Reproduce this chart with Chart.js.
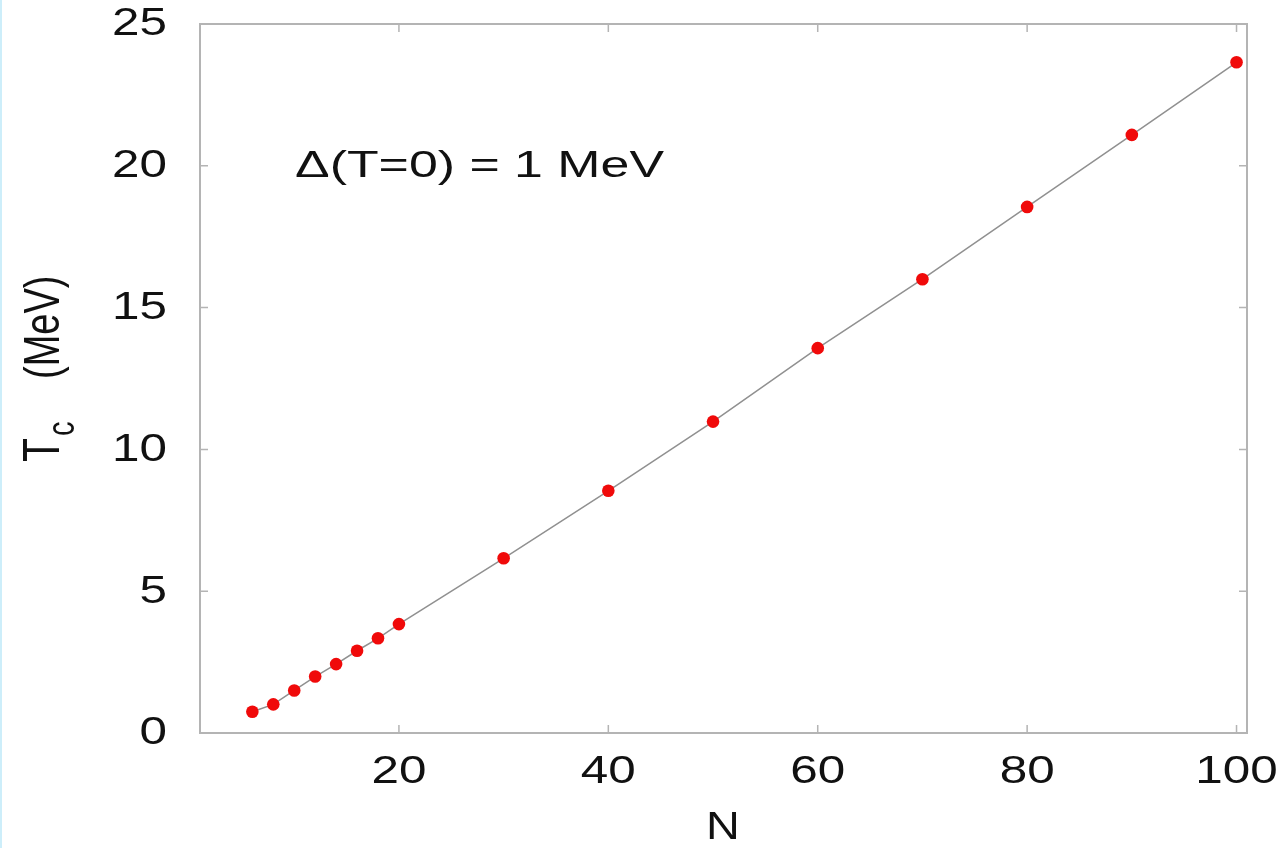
<!DOCTYPE html>
<html>
<head>
<meta charset="utf-8">
<script src="https://cdn.jsdelivr.net/npm/chart.js@4.4.0/dist/chart.umd.min.js"></script>
<style>
    html, body { margin: 0; padding: 0; background: #fff; }
    body { width: 1283px; height: 848px; overflow: hidden; border-left: 2px solid #cdeefa; box-sizing: border-box; }
    #wrap { position: relative; width: 1281px; height: 848px; }
</style>
</head>
<body>
<div id="wrap"><canvas id="tc-chart"></canvas></div>
<script>
// Critical temperature Tc vs N for gap Delta(T=0) = 1 MeV
const particleN = [6, 8, 10, 12, 14, 16, 18, 20, 30, 40, 50, 60, 70, 80, 90, 100];
const criticalT = [0.75, 1.01, 1.5, 1.99, 2.43, 2.9, 3.34, 3.84, 6.16, 8.54, 10.98, 13.57, 16.0, 18.55, 21.09, 23.65];
const xTicks = [20, 40, 60, 80, 100];
const yTicks = [0, 5, 10, 15, 20, 25];
const annotation = 'Δ(T=0) = 1 MeV';

const fontFamily = '"Liberation Sans", Arial, Helvetica, sans-serif';
const frameColor = '#b4b4b4';
const stretch = 1.3; // the original lettering is wide

// draw text squeezed/stretched horizontally around (x, y)
function wideText(ctx, text, x, y, sx, align) {
    ctx.save();
    ctx.translate(x, y);
    ctx.scale(sx, 1);
    ctx.textAlign = align;
    ctx.fillText(text, 0, 0);
    ctx.restore();
}

// frame, inner ticks, tick labels and titles
const framePlugin = {
    id: 'frame',
    afterDraw(chart) {
        const { ctx, chartArea: a, scales } = chart;
        ctx.save();
        ctx.strokeStyle = frameColor;
        ctx.lineWidth = 2;
        ctx.strokeRect(a.left, a.top, a.right - a.left, a.bottom - a.top);

        ctx.lineWidth = 1.5;
        ctx.beginPath();
        xTicks.forEach(v => {
            const px = scales.x.getPixelForValue(v);
            ctx.moveTo(px, a.bottom); ctx.lineTo(px, a.bottom - 8);
            ctx.moveTo(px, a.top); ctx.lineTo(px, a.top + 8);
        });
        yTicks.forEach(v => {
            const py = scales.y.getPixelForValue(v);
            ctx.moveTo(a.left, py); ctx.lineTo(a.left + 8, py);
            ctx.moveTo(a.right, py); ctx.lineTo(a.right - 8, py);
        });
        ctx.stroke();

        ctx.fillStyle = '#111';
        ctx.font = '38px ' + fontFamily;
        ctx.textBaseline = 'middle';
        xTicks.forEach(v => {
            wideText(ctx, String(v), scales.x.getPixelForValue(v), 773, stretch, 'center');
        });
        yTicks.forEach(v => {
            wideText(ctx, String(v), 165, scales.y.getPixelForValue(v) + 1, stretch, 'right');
        });

        // x title
        ctx.font = '39px ' + fontFamily;
        wideText(ctx, 'N', 721, 828, 1.2, 'center');

        // y title, rotated, glyphs widened across the text direction
        ctx.save();
        ctx.translate(57, 0);
        ctx.rotate(-Math.PI / 2);
        ctx.scale(1, 1.33);
        ctx.textAlign = 'left';
        ctx.textBaseline = 'alphabetic';
        ctx.font = '39px ' + fontFamily;
        ctx.fillText('T', -462, 0);
        ctx.font = '29px ' + fontFamily;
        ctx.fillText('c', -436, 11);
        ctx.font = '38px ' + fontFamily;
        ctx.fillText('(MeV)', -379, 0);
        ctx.restore();

        // annotation inside the plot, fitted to the original width
        ctx.font = '37px ' + fontFamily;
        ctx.textBaseline = 'alphabetic';
        const w = ctx.measureText(annotation).width;
        wideText(ctx, annotation, 293, 177, 369 / w, 'left');
        ctx.restore();
    }
};

new Chart(document.getElementById('tc-chart'), {
    type: 'scatter',
    data: {
        datasets: [{
            data: particleN.map((n, i) => ({ x: n, y: criticalT[i] })),
            showLine: true,
            borderColor: '#909090',
            borderWidth: 1.5,
            pointRadius: 6.3,
            pointBackgroundColor: '#f00a0a',
            pointBorderWidth: 0,
            pointHoverRadius: 6.3
        }]
    },
    options: {
        responsive: true,
        maintainAspectRatio: false,
        animation: false,
        layout: { padding: { top: 24, right: 36, left: 0, bottom: 0 } },
        plugins: { legend: { display: false }, tooltip: { enabled: false } },
        scales: {
            x: {
                type: 'linear',
                min: 1,
                max: 101,
                afterBuildTicks: s => { s.ticks = xTicks.map(v => ({ value: v })); },
                afterFit: s => { s.height = 115; s.paddingLeft = 0; s.paddingRight = 0; },
                grid: { display: false },
                border: { display: false },
                ticks: { display: false }
            },
            y: {
                min: 0,
                max: 25,
                afterBuildTicks: s => { s.ticks = yTicks.map(v => ({ value: v })); },
                afterFit: s => { s.width = 198; s.paddingTop = 0; s.paddingBottom = 0; },
                grid: { display: false },
                border: { display: false },
                ticks: { display: false }
            }
        }
    },
    plugins: [framePlugin]
});
</script>
</body>
</html>
